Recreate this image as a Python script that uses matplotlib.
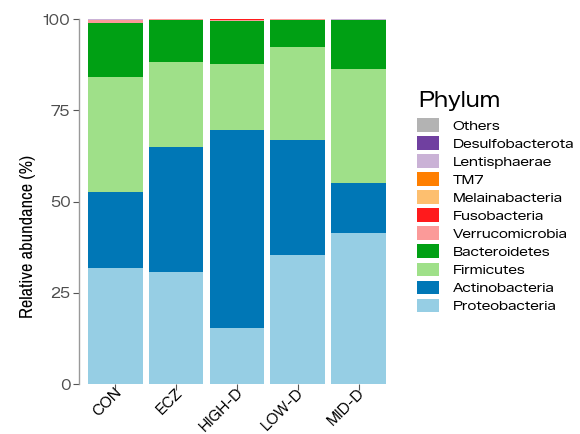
import numpy as np
import matplotlib
matplotlib.use("Agg")
import matplotlib.pyplot as plt
import matplotlib.transforms as mtransforms
from matplotlib.patches import Patch

# relative abundance (%) of each phylum per group
groups = ["CON", "ECZ", "HIGH-D", "LOW-D", "MID-D"]
phyla = ["Proteobacteria", "Actinobacteria", "Firmicutes", "Bacteroidetes",
         "Verrucomicrobia", "Fusobacteria", "Melainabacteria", "TM7",
         "Lentisphaerae", "Desulfobacterota", "Others"]

proteobacteria = [31.8, 30.6, 15.4, 35.3, 41.3]
actinobacteria = [20.9, 34.4, 54.2, 31.5, 13.7]
firmicutes = [31.5, 23.3, 18.0, 25.6, 31.2]
bacteroidetes = [14.7, 11.5, 11.9, 7.4, 13.5]
verrucomicrobia = [0.75, 0.15, 0.12, 0.12, 0.05]
fusobacteria = [0.12, 0.02, 0.32, 0.02, 0.02]
melainabacteria = [0.05, 0.01, 0.02, 0.01, 0.02]
tm7 = [0.04, 0.01, 0.01, 0.01, 0.01]
lentisphaerae = [0.05, 0.01, 0.01, 0.02, 0.18]
desulfobacterota = [0.02, 0.01, 0.01, 0.01, 0.01]
others = [0.02, 0.02, 0.01, 0.01, 0.02]

colors = ["#96CEE4", "#0077B6", "#9FE089", "#00A014", "#FB9A99",
          "#FF1A1C", "#FDBF6F", "#FF7F00", "#CAB2D6", "#7040A0", "#B3B3B3"]

table = [proteobacteria, actinobacteria, firmicutes, bacteroidetes,
         verrucomicrobia, fusobacteria, melainabacteria, tm7,
         lentisphaerae, desulfobacterota, others]

wide = ["Zalando Sans SemiExpanded", "Liberation Sans", "DejaVu Sans"]
plt.rcParams['font.family'] = wide

fig = plt.figure(figsize=(5.8, 4.34), dpi=100)
ax = fig.add_axes([0.136, 0.1152, 0.545, 0.841])

x = np.arange(1, len(groups) + 1)
bottom = np.zeros(len(groups))
for name, vals, col in zip(phyla, table, colors):
    ax.bar(x, vals, width=0.9, bottom=bottom, color=col, label=name, linewidth=0)
    bottom += np.array(vals)

ax.set_xlim(0.4, 5.6)
ax.set_ylim(0, 100)
ax.set_yticks([0, 25, 50, 75, 100])
ax.set_xticks(x)
ax.set_xticklabels([])
# group names, rotated, sitting just right of each tick
shift = mtransforms.ScaledTranslation(9 / 100, -1.5 / 100, fig.dpi_scale_trans)
for xi, g in zip(x, groups):
    ax.text(xi, 0, g, transform=ax.get_xaxis_transform() + shift,
            rotation=45, ha="right", va="top", fontsize=10.1, color="black",
            clip_on=False)
ax.tick_params(axis="y", labelsize=10.5, labelcolor="#4D4D4D", color="#555555",
               length=4, width=0.8, pad=2)
ax.tick_params(axis="x", color="#555555", length=4, width=0.8)

for s in ["top", "right", "bottom"]:
    ax.spines[s].set_visible(False)
ax.spines["left"].set_color("#999999")
ax.spines["left"].set_linewidth(1.0)

ax.set_ylabel("Relative abundance (%)", fontsize=13.3,
              family=["Archivo Narrow", "Liberation Sans"])
ax.yaxis.set_label_coords(-0.137, 0.405)

fig.text(418 / 580, 1 - 107 / 434, "Phylum", fontsize=16, va="baseline")
handles = [Patch(facecolor=c, edgecolor="none") for c in colors][::-1]
labels = phyla[::-1]
leg = fig.legend(handles, labels, loc="upper left",
                 bbox_to_anchor=(417 / 580, 1 - 118 / 434), frameon=False,
                 fontsize=10, handlelength=1.55, handleheight=1.15,
                 labelspacing=0.25, handletextpad=1.0, borderaxespad=0,
                 borderpad=0)

fig.savefig("out.png", dpi=100)
